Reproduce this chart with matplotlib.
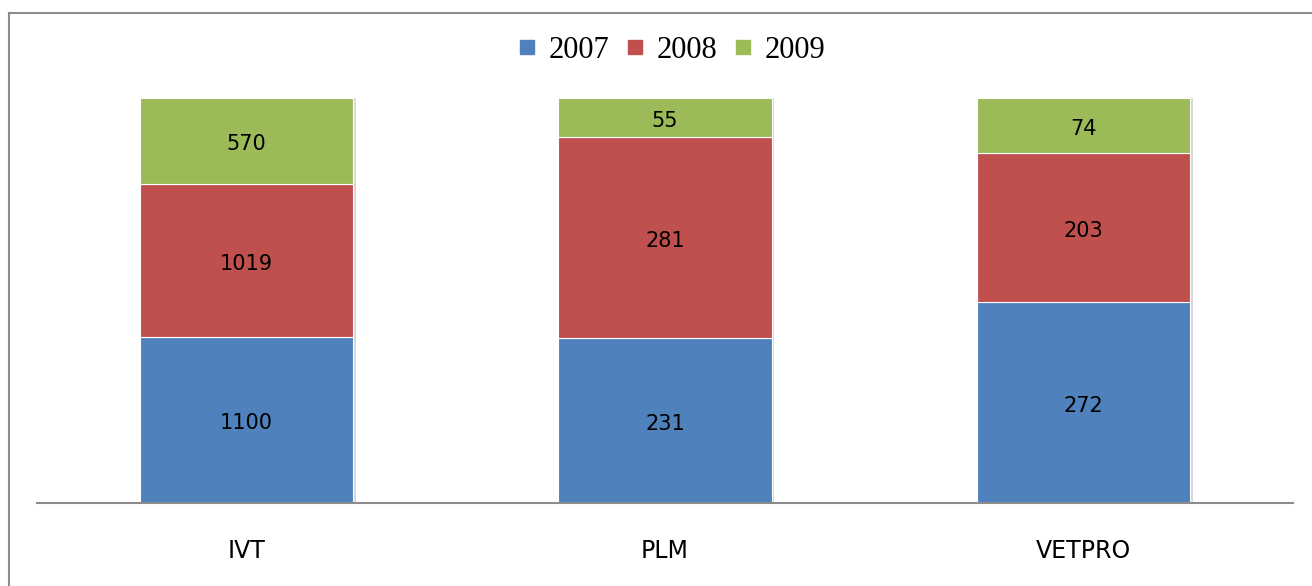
import matplotlib.pyplot as plt
import numpy as np
from matplotlib.lines import Line2D

categories = ["IVT", "PLM", "VETPRO"]
years = ["2007", "2008", "2009"]
v2007 = [1100, 231, 272]
v2008 = [1019, 281, 203]
v2009 = [570, 55, 74]
colors = ["#4F81BD", "#C0504D", "#9BBB59"]

fig = plt.figure(figsize=(13.12, 5.86), dpi=100)
ax = fig.add_axes([37 / 1312, 83 / 586, 1256 / 1312, 405 / 586])

series = [v2007, v2008, v2009]
totals = np.sum(series, axis=0)
x = np.arange(len(categories))
bottom = np.zeros(len(categories))
for vals, col, yr in zip(series, colors, years):
    frac = np.array(vals) / totals
    bars = ax.bar(x, frac, width=0.51, bottom=bottom, color=col,
                  edgecolor="white", linewidth=0.8, zorder=3, label=yr)
    for b, v, f, bt in zip(bars, vals, frac, bottom):
        ax.text(b.get_x() + b.get_width() / 2, bt + f / 2 - 0.008, str(v),
                ha="center", va="center", fontsize=15, color="black",
                family="DejaVu Sans", zorder=4)
    # soft shadow on the right side
    ax.bar(x + 0.006, frac, width=0.51, bottom=bottom, color="#d8d8d8",
           linewidth=0, zorder=2)
    bottom += frac

ax.set_xlim(-0.5, len(categories) - 0.5)
ax.set_ylim(0, 1)
ax.set_yticks([])
ax.set_xticks(x)
ax.set_xticklabels(categories, fontsize=17, family="DejaVu Sans")
ax.tick_params(axis="x", length=0, pad=26)
for s in ["top", "right", "left"]:
    ax.spines[s].set_visible(False)
ax.spines["bottom"].set_color("#8c8c8c")
ax.spines["bottom"].set_linewidth(1.5)
ax.spines["bottom"].set_zorder(5)

leg_handles = [Line2D([0], [0], marker="s", linestyle="none", markersize=10,
                      markerfacecolor=c, markeredgecolor=c) for c in colors]
fig.legend(leg_handles, years, loc="center", bbox_to_anchor=(670 / 1312, 1 - 50 / 586),
           ncol=3, frameon=False, prop={"family": "Liberation Serif", "size": 22},
           handletextpad=0.3, columnspacing=0.45, handlelength=0.8)

# outer chart frame (only top and left edges visible)
fig.add_artist(Line2D([9 / 1312, 1], [1 - 13 / 586, 1 - 13 / 586], color="#8c8c8c", linewidth=1.5))
fig.add_artist(Line2D([9 / 1312, 9 / 1312], [0, 1 - 13 / 586], color="#8c8c8c", linewidth=1.5))

fig.savefig("out.png", dpi=100)
